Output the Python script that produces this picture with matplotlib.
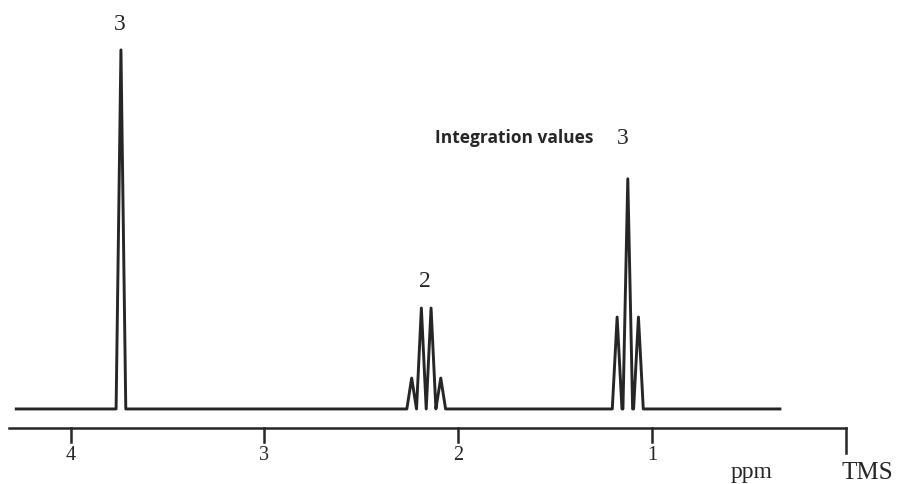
import numpy as np
import matplotlib
matplotlib.use("Agg")
import matplotlib.pyplot as plt

# 1H NMR peaks (ppm, relative height)
singlet_ppm = [3.74]
singlet_h = [100.0]
quartet_ppm = [2.24, 2.19, 2.14, 2.09]
quartet_h = [8.6, 28.1, 28.1, 8.6]
triplet_ppm = [1.18, 1.125, 1.07]
triplet_h = [25.6, 64.1, 25.6]

baseline_start = 4.28
baseline_end = 0.34
half_width = 0.025

tick_ppm = [4, 3, 2, 1]
tick_labels = ["4", "3", "2", "1"]

integration_labels = ["3", "2", "3"]

ink = "#262626"

# build the spectrum trace from the peak table
peaks = sorted(zip(singlet_ppm + quartet_ppm + triplet_ppm,
                   singlet_h + quartet_h + triplet_h), reverse=True)
xs = [baseline_start]
ys = [0.0]
for c, h in peaks:
    xs += [c + half_width, c, c - half_width]
    ys += [0.0, h, 0.0]
xs.append(baseline_end)
ys.append(0.0)

fig = plt.figure(figsize=(8.97, 4.84), dpi=100)
ax = fig.add_axes([0, 0, 1, 1])
ax.set_xlim(4.364, -0.264)
ax.set_ylim(-20.9, 113.9)
ax.axis("off")

ax.plot(xs, ys, color=ink, lw=2.1, solid_joinstyle="round")

# ppm scale under the spectrum
axis_y = -5.3
ax.plot([4.32, 0.0], [axis_y, axis_y], color=ink, lw=1.8)
for t, lab in zip(tick_ppm, tick_labels):
    ax.plot([t, t], [axis_y, -9.2], color=ink, lw=1.8)
    ax.text(t, -12.9, lab, ha="center", va="center", fontsize=14.5,
            family="Liberation Serif", color=ink)
ax.plot([0.0, 0.0], [axis_y, -12.3], color=ink, lw=1.8)
ax.text(0.484, -17.8, "ppm", ha="center", va="center", fontsize=17,
        family="Liberation Serif", color=ink)
ax.text(-0.11, -17.8, "TMS", ha="center", va="center", fontsize=18,
        family="Liberation Serif", color=ink)

# integration values above each signal
label_pos = [(3.745, 107.0), (2.171, 35.4), (1.15, 75.2)]
for (px, py), lab in zip(label_pos, integration_labels):
    ax.text(px, py, lab, ha="center", va="center", fontsize=17,
            family="Liberation Serif", color=ink)
ax.text(2.12, 75.4, "Integration values", ha="left", va="center",
        fontsize=12.5, fontweight="bold", family="Open Sans", color=ink)

fig.savefig("out.png", dpi=100)
